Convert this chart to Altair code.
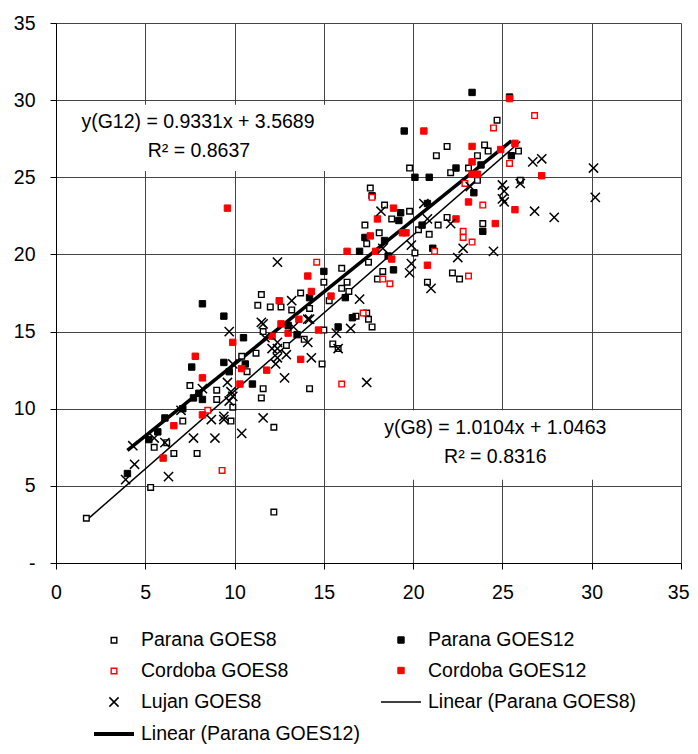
import altair as alt
import pandas as pd

# ---------------- data ----------------
series_names = ["Parana GOES8", "Parana GOES12", "Cordoba GOES8", "Cordoba GOES12",
                "Lujan GOES8", "Linear (Parana GOES8)", "Linear (Parana GOES12)"]

parana_g8_x = [1.7, 5.3, 12.2, 6.6, 7.9, 7.1, 5.5, 6.2, 9.8, 9.9, 12.2, 9.0, 9.0, 7.5, 11.6,
               11.5, 14.2, 14.9, 10.4, 11.2, 10.7, 11.6, 12.9, 13.9, 15.0, 15.5, 15.8, 11.3,
               12.0, 12.6, 13.2, 14.2, 11.5, 13.7, 15.0, 15.3, 16.0, 16.3, 16.0, 16.4, 17.5,
               18.0, 16.8, 17.4, 17.5, 17.7, 17.6, 18.4, 19.8, 18.8, 17.3, 21.4, 20.3, 20.9,
               18.1, 17.4, 20.1, 18.3, 22.2, 22.6, 20.8, 21.9, 23.9, 21.3, 19.8, 22.1, 23.1,
               23.6, 24.2, 25.9, 23.6, 26.0, 21.9, 24.0, 24.7]
parana_g8_y = [2.9, 4.9, 3.3, 7.1, 7.1, 9.2, 7.5, 7.8, 9.2, 10.1, 8.8, 10.6, 11.2, 11.5, 11.3,
               10.7, 11.3, 12.9, 13.4, 13.6, 12.4, 15.0, 14.1, 14.5, 15.1, 14.2, 13.9, 16.7,
               16.6, 16.6, 16.4, 16.5, 17.4, 17.5, 18.2, 17.0, 19.1, 18.2, 17.8, 17.6, 19.5,
               18.4, 16.0, 16.2, 15.8, 15.3, 24.3, 23.2, 22.8, 22.3, 21.9, 21.9, 21.6, 21.3,
               21.4, 20.7, 20.1, 18.9, 18.8, 18.4, 18.2, 22.4, 22.0, 26.4, 25.6, 25.3, 25.6,
               26.4, 26.7, 26.7, 24.8, 24.8, 27.0, 27.1, 28.7]

parana_g12_x = [4.0, 5.2, 5.7, 6.1, 7.1, 7.7, 8.0, 8.2, 7.6, 9.4, 9.7, 10.6, 11.0, 10.5, 9.4,
                8.2, 13.0, 13.5, 15.8, 16.6, 14.2, 15.0, 16.2, 17.0, 17.3, 18.4, 18.6, 18.9,
                17.7, 19.3, 19.2, 20.5, 20.8, 21.1, 20.1, 20.9, 22.4, 23.8, 25.5, 23.4, 23.9,
                19.5, 23.3, 25.4]
parana_g12_y = [5.8, 8.0, 8.5, 9.4, 10.0, 10.7, 11.0, 10.6, 12.7, 13.0, 12.4, 12.9, 11.6, 14.6,
                16.0, 16.8, 15.4, 14.8, 15.3, 15.9, 17.2, 18.9, 17.2, 20.2, 21.1, 20.9, 19.9,
                19.0, 23.8, 22.7, 22.2, 21.9, 23.3, 20.4, 25.0, 25.0, 25.6, 25.8, 26.4, 24.0,
                21.5, 28.0, 30.5, 30.2]

cordoba_g8_x = [9.3, 8.5, 16.0, 14.6, 17.2, 18.3, 18.7, 17.7, 21.2, 22.8, 22.8, 23.3, 23.1,
                22.9, 23.9, 25.4, 24.5, 26.8]
cordoba_g8_y = [6.0, 9.9, 11.6, 19.5, 16.2, 18.4, 18.1, 23.7, 20.2, 21.5, 21.1, 20.8, 18.6,
                24.6, 23.2, 25.9, 28.2, 29.0]

cordoba_g12_x = [6.0, 6.6, 8.2, 8.2, 7.8, 9.9, 10.4, 10.3, 11.8, 12.1, 13.0, 12.6, 13.6, 13.7,
                 14.7, 12.5, 14.1, 14.3, 15.4, 16.3, 17.9, 17.6, 18.0, 18.9, 19.4, 19.6, 18.8,
                 20.8, 20.6, 22.4, 23.1, 24.6, 25.7, 27.2, 23.3, 23.3, 23.6, 23.3, 25.7, 24.9,
                 25.4, 9.6]
cordoba_g12_y = [6.8, 8.9, 9.6, 12.0, 13.4, 14.3, 12.6, 11.6, 12.5, 14.7, 14.9, 15.5, 15.8, 13.2,
                 15.1, 17.0, 18.6, 17.6, 17.3, 20.2, 20.2, 21.2, 22.3, 23.0, 21.4, 21.4, 19.7,
                 19.3, 28.0, 22.3, 23.4, 22.0, 22.9, 25.1, 26.0, 25.2, 25.2, 27.0, 27.2, 26.8,
                 30.1, 23.0]

lujan_g8_x = [3.9, 4.4, 4.3, 6.3, 5.5, 6.1, 7.0, 7.7, 8.9, 8.7, 9.4, 9.4, 10.4, 8.2, 9.6, 9.8,
              9.9, 9.7, 9.9, 9.7, 11.6, 11.6, 11.5, 12.8, 12.4, 12.3, 12.4, 12.9, 12.1, 11.7,
              12.4, 14.3, 14.1, 13.3, 14.2, 14.1, 15.7, 15.8, 13.2, 16.5, 17.0, 17.4, 12.4,
              18.2, 20.6, 20.8, 22.1, 19.9, 19.9, 19.8, 21.0, 22.8, 22.5, 24.5, 23.2, 25.0,
              25.1, 25.0, 25.1, 26.0, 26.8, 27.9, 26.7, 27.2, 30.1, 30.2, 18.3]
lujan_g8_y = [5.4, 6.4, 7.6, 5.6, 8.1, 7.8, 9.9, 8.1, 8.1, 9.3, 9.3, 9.5, 8.4, 11.3, 11.7, 11.1,
              10.8, 10.5, 12.9, 15.0, 9.4, 15.5, 15.6, 12.0, 13.3, 12.9, 13.9, 13.5, 13.9, 14.6,
              14.3, 13.3, 14.3, 15.3, 15.8, 15.8, 14.9, 13.9, 17.0, 15.2, 17.1, 11.7, 19.5,
              22.8, 23.3, 22.3, 22.0, 20.6, 19.4, 18.8, 17.8, 20.4, 19.8, 20.2, 24.4, 24.5,
              24.1, 23.6, 23.4, 24.6, 22.8, 22.4, 26.0, 26.2, 25.6, 23.7, 20.4]

# trend lines as printed on the chart
fit_names = ["Linear (Parana GOES8)", "Linear (Parana GOES12)"]
fit_slopes = [1.0104, 0.9331]
fit_intercepts = [1.0463, 3.5689]
fit_x_start = [1.7, 4.0]
fit_x_end = [26.0, 25.5]

ann_texts = ["y(G12) = 0.9331x + 3.5689", "R\u00b2 = 0.8637",
             "y(G8) = 1.0104x + 1.0463", "R\u00b2 = 0.8316"]
ann_x = [7.95, 8.0, 24.6, 24.6]
ann_y = [28.6, 26.7, 8.75, 6.9]

box_x = [0.2, 15.6]
box_x2 = [15.1, 33.6]
box_y = [25.4, 5.4]
box_y2 = [29.7, 9.9]

# ---------------- tables ----------------
pts = pd.concat([
    pd.DataFrame({"x": parana_g8_x, "y": parana_g8_y, "series": series_names[0]}),
    pd.DataFrame({"x": parana_g12_x, "y": parana_g12_y, "series": series_names[1]}),
    pd.DataFrame({"x": cordoba_g8_x, "y": cordoba_g8_y, "series": series_names[2]}),
    pd.DataFrame({"x": cordoba_g12_x, "y": cordoba_g12_y, "series": series_names[3]}),
    pd.DataFrame({"x": lujan_g8_x, "y": lujan_g8_y, "series": series_names[4]}),
], ignore_index=True)

fit_rows = []
for n, m, b, x0, x1 in zip(fit_names, fit_slopes, fit_intercepts, fit_x_start, fit_x_end):
    fit_rows.append({"x": x0, "y": m * x0 + b, "series": n})
    fit_rows.append({"x": x1, "y": m * x1 + b, "series": n})
fits = pd.DataFrame(fit_rows)

ann = pd.DataFrame({"x": ann_x, "y": ann_y, "t": ann_texts})
boxes = pd.DataFrame({"x": box_x, "x2": box_x2, "y": box_y, "y2": box_y2})

FONT = "Liberation Sans"
FS = 19.5

sq_open = "M-0.14,-0.14H0.14V0.14H-0.14Z"
sq_fill = "M-0.16,-0.16H0.16V0.16H-0.16Z"
cross = "M-0.23,-0.23L0.23,0.23M-0.23,0.23L0.23,-0.23"
hline = "M-1,0H1"

shape_range = [sq_open, sq_fill, sq_open, sq_fill, cross, hline, hline]
stroke_range = ["black", "black", "red", "red", "black", "black", "black"]
fill_range = ["white", "black", "white", "red", "transparent", "transparent", "transparent"]
sw_range = [1.4, 1.0, 1.4, 1.0, 1.5, 1.5, 4.0]

xscale = alt.Scale(domain=[0, 35], nice=False, zero=False)
yscale = alt.Scale(domain=[0, 35], nice=False, zero=False)

xaxis = alt.Axis(values=list(range(0, 36, 5)), title=None, grid=True, gridColor="#444444",
                 gridWidth=1, domainColor="black", tickColor="black", tickSize=6,
                 labelFont=FONT, labelFontSize=FS, labelColor="black", labelPadding=14,
                 labelFlush=False,
                 labelAlign={"condition": {"test": "datum.value == 35", "value": "right"},
                             "value": "center"},
                 labelOffset={"condition": {"test": "datum.value == 35", "value": 8},
                              "value": 0})
yaxis = alt.Axis(values=list(range(0, 36, 5)), title=None, grid=True, gridColor="#444444",
                 gridWidth=1, domainColor="black", tickColor="black", tickSize=6,
                 labelFont=FONT, labelFontSize=FS, labelColor="black", labelPadding=15,
                 labelFlush=False,
                 labelExpr="datum.value == 0 ? '-' : datum.label")

legend = alt.Legend(title=None, orient="none", legendX=36, legendY=596, columns=2,
                    direction="horizontal", labelFont=FONT, labelFontSize=FS,
                    labelColor="black", labelOffset=5, symbolSize=1600,
                    columnPadding=18, rowPadding=-3, padding=0, labelLimit=400)

boxes_layer = alt.Chart(boxes).mark_rect(fill="white", strokeWidth=0).encode(
    x=alt.X("x:Q", scale=xscale, axis=xaxis),
    x2="x2:Q",
    y=alt.Y("y:Q", scale=yscale, axis=yaxis),
    y2="y2:Q",
)

points = alt.Chart(pts).mark_point(opacity=1, size=1600).encode(
    x=alt.X("x:Q", scale=xscale, axis=xaxis),
    y=alt.Y("y:Q", scale=yscale, axis=yaxis),
    shape=alt.Shape("series:N", scale=alt.Scale(domain=series_names, range=shape_range),
                    legend=legend),
    stroke=alt.Stroke("series:N", scale=alt.Scale(domain=series_names, range=stroke_range),
                      legend=legend),
    fill=alt.Fill("series:N", scale=alt.Scale(domain=series_names, range=fill_range),
                  legend=legend),
    strokeWidth=alt.StrokeWidth("series:N",
                                scale=alt.Scale(type="ordinal", domain=series_names,
                                                range=sw_range),
                                legend=legend),
)

thin = alt.Chart(fits).transform_filter(
    alt.datum.series == fit_names[0]).mark_line(color="black", strokeWidth=1.5).encode(
    x=alt.X("x:Q", scale=xscale, axis=xaxis),
    y=alt.Y("y:Q", scale=yscale, axis=yaxis),
)
thick = alt.Chart(fits).transform_filter(
    alt.datum.series == fit_names[1]).mark_line(color="black", strokeWidth=3.5).encode(
    x=alt.X("x:Q", scale=xscale, axis=xaxis),
    y=alt.Y("y:Q", scale=yscale, axis=yaxis),
)

texts = alt.Chart(ann).mark_text(font=FONT, fontSize=FS, color="black", align="center",
                                 baseline="middle").encode(
    x=alt.X("x:Q", scale=xscale, axis=xaxis),
    y=alt.Y("y:Q", scale=yscale, axis=yaxis),
    text="t:N",
)

chart = alt.layer(boxes_layer, thin, thick, points, texts).properties(
    width=625, height=540,
    autosize=alt.AutoSizeParams(type="none"),
    padding={"left": 48, "top": 15, "right": 9, "bottom": 182},
    background="white",
).configure_view(strokeWidth=0)

chart.save("out.html", embed_options={"renderer": "svg", "actions": False})
